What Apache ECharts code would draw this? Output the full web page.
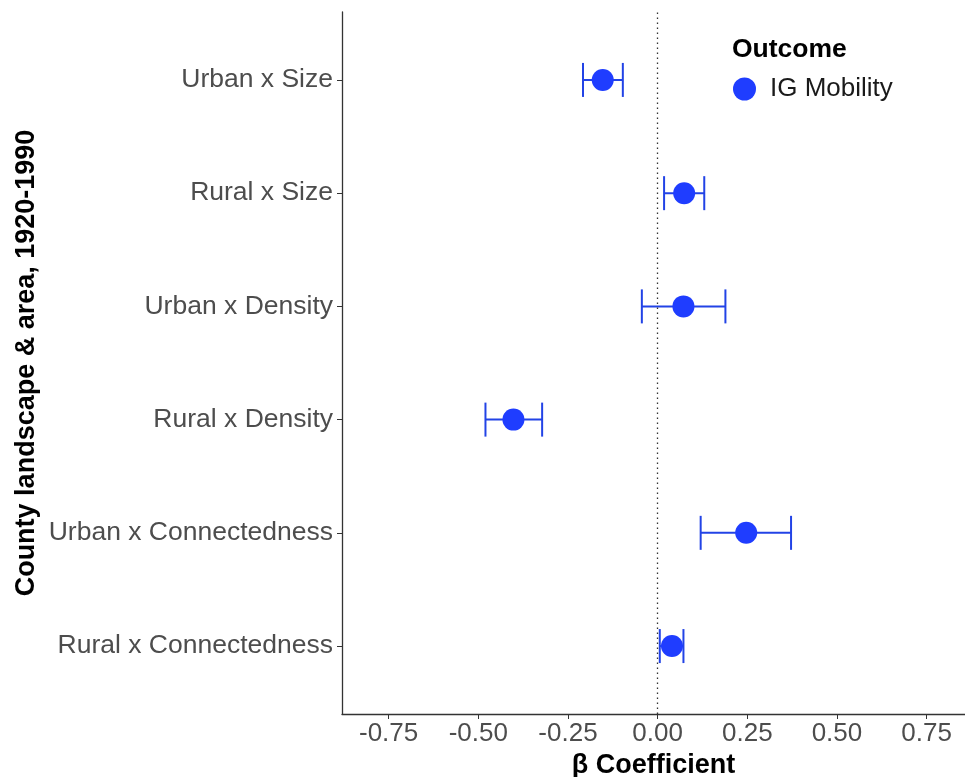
<!DOCTYPE html>
<html>
<head>
<meta charset="utf-8">
<script src="https://cdn.jsdelivr.net/npm/echarts@6/dist/echarts.min.js"></script>
<style>html,body{margin:0;padding:0;background:#fff;}#c{width:965px;height:777px;}</style>
</head>
<body>
<div id="c"></div>
<script>
// categories, top to bottom
const categories = ["Urban x Size","Rural x Size","Urban x Density","Rural x Density","Urban x Connectedness","Rural x Connectedness"];
const estimates = [-0.153, 0.074, 0.072, -0.402, 0.247, 0.040];
const lower = [-0.208, 0.018, -0.044, -0.480, 0.120, 0.006];
const upper = [-0.097, 0.130, 0.189, -0.322, 0.372, 0.072];
const xTicks = [-0.75, -0.5, -0.25, 0, 0.25, 0.5, 0.75];
const xTickLabels = ["-0.75","-0.50","-0.25","0.00","0.25","0.50","0.75"];
const seriesName = "IG Mobility";

const n = categories.length;
const pos = categories.map((c, i) => n - i); // top category at highest y
const pointData = estimates.map((v, i) => [v, pos[i]]);
const barData = lower.map((l, i) => [l, upper[i], pos[i]]);

const FONT = "Liberation Sans, Arial, sans-serif";
const chart = echarts.init(document.getElementById('c'), null, {renderer: 'canvas'});
chart.setOption({
  animation: false,
  backgroundColor: '#fff',
  grid: {left: 342, right: 0, top: 12, bottom: 63, containLabel: false, outerBoundsMode: 'none'},
  legend: {
    show: true,
    left: 733, top: 76, padding: 0,
    orient: 'vertical',
    icon: 'circle', itemWidth: 23, itemHeight: 23,
    data: [seriesName],
    textStyle: {fontFamily: FONT, fontSize: 26, color: '#1a1a1a', padding: [0,0,0,9]}
  },
  graphic: [
    {type: 'text', left: 732, top: 36, style: {text: 'Outcome', fontFamily: FONT, fontSize: 26.5, fontWeight: 'bold', fill: '#000'}},
    {type: 'text', x: 27, y: 363, rotation: Math.PI/2, style: {text: 'County landscape & area, 1920-1990', fontFamily: FONT, fontSize: 27, fontWeight: 'bold', fill: '#000', align: 'center', verticalAlign: 'middle'}}
  ],
  xAxis: {
    type: 'value', min: -0.88, max: 0.857,
    name: 'β Coefficient', nameLocation: 'middle', nameGap: 38,
    nameTextStyle: {fontFamily: FONT, fontSize: 27, fontWeight: 'bold', color: '#000'},
    axisLine: {show: true, onZero: false, lineStyle: {color: '#333', width: 1.3}},
    axisTick: {show: true, length: 5, lineStyle: {color: '#333'}, customValues: xTicks},
    axisLabel: {fontFamily: FONT, fontSize: 26, color: '#4d4d4d', margin: 7, customValues: xTicks,
      formatter: v => { const i = xTicks.findIndex(t => Math.abs(t - v) < 1e-6); return i >= 0 ? xTickLabels[i] : ''; }},
    splitLine: {show: false}
  },
  yAxis: {
    type: 'value', min: 0.4, max: n + 0.6,
    axisLine: {show: true, onZero: false, lineStyle: {color: '#333', width: 1.3}},
    axisTick: {show: true, length: 5, lineStyle: {color: '#333'}, customValues: pos},
    axisLabel: {fontFamily: FONT, fontSize: 26.5, color: '#4d4d4d', margin: 9, customValues: pos,
      formatter: v => { const i = pos.findIndex(p => Math.abs(p - v) < 1e-6); return i >= 0 ? categories[i] : ''; }},
    splitLine: {show: false}
  },
  series: [
    {
      name: 'errbar', type: 'custom', z: 2,
      data: barData,
      encode: {x: [0, 1], y: 2},
      renderItem: function (params, api) {
        const a = api.coord([api.value(0), api.value(2)]);
        const b = api.coord([api.value(1), api.value(2)]);
        const h = 17;
        const st = {stroke: '#2243e6', lineWidth: 2};
        return {type: 'group', children: [
          {type: 'line', shape: {x1: a[0], y1: a[1], x2: b[0], y2: b[1]}, style: st},
          {type: 'line', shape: {x1: a[0], y1: a[1]-h, x2: a[0], y2: a[1]+h}, style: st},
          {type: 'line', shape: {x1: b[0], y1: b[1]-h, x2: b[0], y2: b[1]+h}, style: st}
        ]};
      },
      markLine: {
        silent: true, symbol: 'none', label: {show: false},
        lineStyle: {color: '#333', type: [1.5, 3.5], width: 1.3},
        data: [{xAxis: 0}]
      }
    },
    {
      name: seriesName, type: 'scatter', z: 3,
      symbol: 'circle', symbolSize: 22,
      itemStyle: {color: '#1f3dff', opacity: 1},
      data: pointData
    }
  ]
});
</script>
</body>
</html>
